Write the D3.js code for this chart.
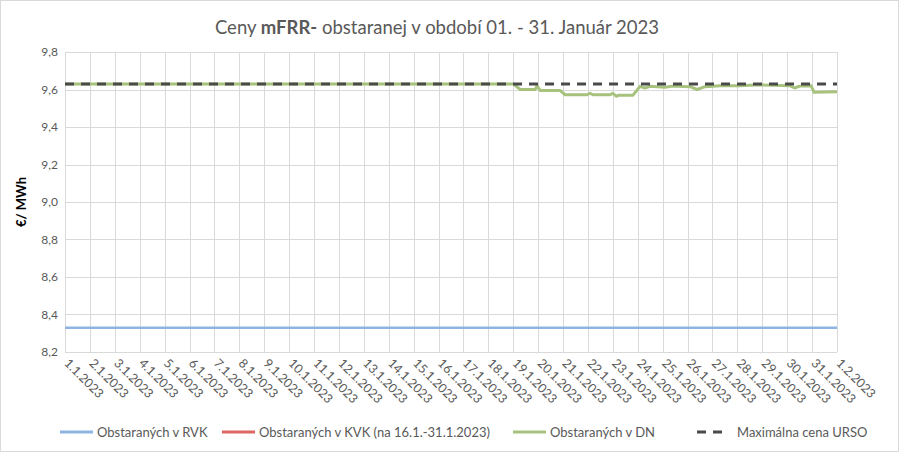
<!DOCTYPE html>
<html><head><meta charset="utf-8">
<script src="https://cdn.jsdelivr.net/npm/d3@7"></script>
<style>
body{margin:0;background:#fff;}
svg{display:block;font-family:"Lato","Open Sans",sans-serif;}
</style></head>
<body><svg id="c" width="899" height="452"></svg>
<script>
// ---- data ----
const dayLabels = ["1.1.2023","2.1.2023","3.1.2023","4.1.2023","5.1.2023","6.1.2023","7.1.2023","8.1.2023","9.1.2023","10.1.2023","11.1.2023","12.1.2023","13.1.2023","14.1.2023","15.1.2023","16.1.2023","17.1.2023","18.1.2023","19.1.2023","20.1.2023","21.1.2023","22.1.2023","23.1.2023","24.1.2023","25.1.2023","26.1.2023","27.1.2023","28.1.2023","29.1.2023","30.1.2023","31.1.2023","1.2.2023"];
const yTicks = [8.2,8.4,8.6,8.8,9.0,9.2,9.4,9.6,9.8];
// series (x = day index 1..32, fractional = time within day)
const rvkDays = [1, 32];
const rvkValues = [8.33, 8.33];
const kvkDays = [];
const kvkValues = [];
const dnDays = [1, 19.0, 19.28, 19.88, 19.96, 20.08, 20.88, 21.08, 21.96, 22.08, 22.2, 22.89, 23.0, 23.13, 23.25, 23.81, 24.09, 24.29, 24.49, 25.1, 25.38, 26.1, 26.38, 26.7, 27.3, 28.1, 28.9, 29.5, 30.1, 30.3, 30.5, 30.96, 31.08, 32.0];
const dnValues = [9.63, 9.63, 9.60, 9.60, 9.62, 9.595, 9.595, 9.572, 9.572, 9.58, 9.572, 9.572, 9.58, 9.564, 9.57, 9.57, 9.617, 9.608, 9.617, 9.612, 9.618, 9.615, 9.60, 9.615, 9.62, 9.62, 9.625, 9.622, 9.62, 9.608, 9.618, 9.62, 9.585, 9.588];
const maxDays = [1, 32];
const maxValues = [9.63, 9.63];
const legendLabels = ["Obstaraných v RVK","Obstaraných v KVK (na 16.1.-31.1.2023)","Obstaraných v DN","Maximálna cena URSO"];
const colors = ["#8eb4e3","#dd6764","#a6c27c","#4a4a4a"];

// ---- drawing ----
const svg = d3.select("#c");
const W = 899, H = 452;
svg.append("rect").attr("x",0.5).attr("y",0.5).attr("width",W-1).attr("height",H-1)
  .attr("fill","#fff").attr("stroke","#d9d9d9");

const L = 65, R = 837, T = 52, B = 352;
const x = d3.scaleLinear().domain([1, 32]).range([L, R]);
const y = d3.scaleLinear().domain([8.2, 9.8]).range([B, T]);

// title
const title = svg.append("text").attr("x", 437).attr("y", 34).attr("text-anchor","middle")
  .attr("font-size", 18.5).attr("fill","#595959");
title.append("tspan").text("Ceny ");
title.append("tspan").attr("font-weight","bold").text("mFRR-");
title.append("tspan").text(" obstaranej v období 01. - 31. Január 2023");

// gridlines
const g = svg.append("g");
g.selectAll("line.h").data(yTicks).enter().append("line")
  .attr("x1", L).attr("x2", R).attr("y1", d=>Math.round(y(d))+0.5).attr("y2", d=>Math.round(y(d))+0.5)
  .attr("stroke","#d9d9d9").attr("stroke-width",1);
g.selectAll("line.v").data(d3.range(1,33)).enter().append("line")
  .attr("y1", T).attr("y2", B).attr("x1", d=>Math.round(x(d))+0.5).attr("x2", d=>Math.round(x(d))+0.5)
  .attr("stroke","#d9d9d9").attr("stroke-width",1);

// y axis labels
const yAxis = d3.axisLeft(y).tickValues(yTicks).tickSize(0).tickPadding(7)
  .tickFormat(d => d3.format(".1f")(d).replace(".", ","));
const ya = svg.append("g").attr("transform", `translate(${L},0)`).call(yAxis);
ya.select(".domain").remove();
ya.selectAll("text").attr("font-size", 12).attr("fill","#595959").attr("font-family","Lato, sans-serif");

// y title
svg.append("text").attr("transform", `translate(26,${(T+B)/2}) rotate(-90)`)
  .attr("text-anchor","middle").attr("font-size", 13).attr("font-weight","bold").attr("fill","#000")
  .text("€/ MWh");

// x axis labels
const xAxis = d3.axisBottom(x).tickValues(d3.range(1,33)).tickSize(0).tickFormat(d => dayLabels[d-1]);
const xa = svg.append("g").attr("transform", `translate(0,${B})`).call(xAxis);
xa.select(".domain").remove();
xa.selectAll("text").attr("font-size", 12.5).attr("fill","#595959").attr("font-family","Lato, sans-serif")
  .attr("text-anchor","start").attr("dy", null).attr("y", 0)
  .attr("transform", "translate(-2,12) rotate(45)");

// lines
const line = d3.line().x(d=>x(d[0])).y(d=>y(d[1]));
function draw(days, vals, color, width, dash){
  if(!days.length) return;
  svg.append("path").datum(days.map((d,i)=>[d, vals[i]]))
    .attr("d", line).attr("fill","none").attr("stroke", color).attr("stroke-width", width)
    .attr("stroke-dasharray", dash || null).attr("stroke-linejoin","round");
}
draw(rvkDays, rvkValues, colors[0], 2.5);
draw(kvkDays, kvkValues, colors[1], 2.5);
draw(dnDays, dnValues, colors[2], 3);
draw(maxDays, maxValues, colors[3], 3, "9,7");

// legend
const legX = [60, 222, 513, 697];
const lg = svg.append("g");
legendLabels.forEach((lab, i) => {
  const ly = 432;
  if (i < 3) {
    lg.append("line").attr("x1", legX[i]).attr("x2", legX[i]+33).attr("y1", ly).attr("y2", ly)
      .attr("stroke", colors[i]).attr("stroke-width", 3);
    lg.append("text").attr("x", legX[i]+37).attr("y", ly+4.5).attr("font-size", 13).attr("fill","#595959").text(lab);
  } else {
    lg.append("line").attr("x1", legX[i]).attr("x2", legX[i]+31).attr("y1", ly).attr("y2", ly)
      .attr("stroke", colors[i]).attr("stroke-width", 3).attr("stroke-dasharray","9,7");
    lg.append("text").attr("x", legX[i]+40).attr("y", ly+4.5).attr("font-size", 13).attr("fill","#595959").text(lab);
  }
});
</script>
</body></html>
